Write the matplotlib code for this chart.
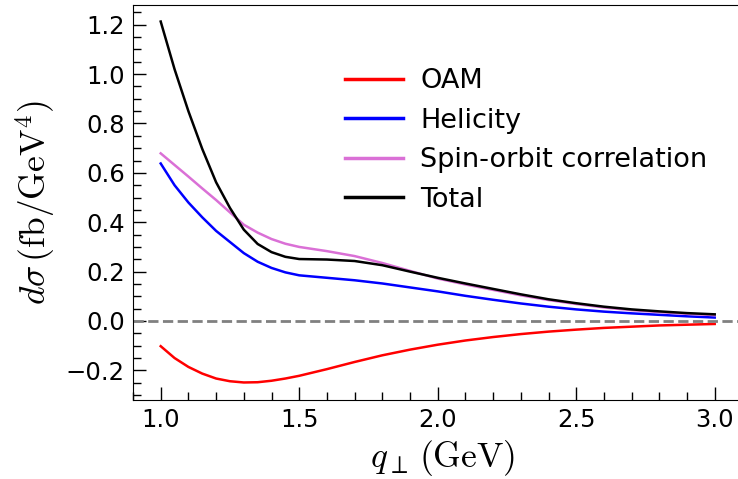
import matplotlib
matplotlib.use("Agg")
import matplotlib.pyplot as plt
from matplotlib.ticker import MultipleLocator

plt.rcParams['mathtext.fontset'] = 'cm'

# transverse momentum points (GeV)
q_perp = [1.0, 1.05, 1.1, 1.15, 1.2, 1.25, 1.3, 1.35, 1.4, 1.45, 1.5, 1.6, 1.7,
          1.8, 1.9, 2.0, 2.1, 2.2, 2.3, 2.4, 2.5, 2.6, 2.7, 2.8, 2.9, 3.0]

# cross section contributions (fb/GeV^4)
oam = [-0.102, -0.150, -0.186, -0.213, -0.233, -0.244, -0.249, -0.248, -0.242,
       -0.233, -0.222, -0.195, -0.166, -0.139, -0.116, -0.096, -0.079, -0.065,
       -0.053, -0.043, -0.035, -0.028, -0.023, -0.018, -0.015, -0.012]
helicity = [0.638, 0.550, 0.480, 0.420, 0.365, 0.320, 0.275, 0.240, 0.215, 0.197,
            0.185, 0.175, 0.165, 0.152, 0.136, 0.120, 0.102, 0.086, 0.071, 0.058,
            0.047, 0.038, 0.031, 0.025, 0.019, 0.014]
spin_orbit = [0.679, 0.632, 0.585, 0.537, 0.490, 0.440, 0.390, 0.358, 0.332, 0.313,
              0.300, 0.283, 0.263, 0.235, 0.203, 0.172, 0.148, 0.126, 0.104, 0.085,
              0.069, 0.055, 0.044, 0.036, 0.029, 0.024]
total = [1.213, 1.020, 0.850, 0.697, 0.562, 0.458, 0.370, 0.312, 0.279, 0.260,
         0.251, 0.249, 0.243, 0.226, 0.200, 0.175, 0.152, 0.130, 0.108, 0.088,
         0.072, 0.058, 0.047, 0.039, 0.032, 0.027]

labels = ['OAM', 'Helicity', 'Spin-orbit correlation', 'Total']
colors = ['red', 'blue', 'orchid', 'black']

fig = plt.figure(figsize=(7.38, 4.79), dpi=100)
# right spine sits just past the figure edge, as in the original crop
ax = fig.add_axes([133 / 738, 79 / 479, 620 / 738, 395 / 479])
ax.set_xlim(0.9, 0.9 + 620 / 277)
ax.set_ylim(-0.32, 1.28)

for ys, lab, c in zip([oam, helicity, spin_orbit, total], labels, colors):
    ax.plot(q_perp, ys, color=c, lw=1.8, label=lab)

ax.axhline(0, color='gray', ls='--', lw=2)

ax.xaxis.set_major_locator(MultipleLocator(0.5))
ax.xaxis.set_minor_locator(MultipleLocator(0.1))
ax.yaxis.set_major_locator(MultipleLocator(0.2))
ax.yaxis.set_minor_locator(MultipleLocator(0.05))
ax.tick_params(which='both', direction='in', labelsize=17.5, pad=6)
ax.tick_params(which='major', length=9.5, width=1)
ax.tick_params(which='minor', length=5.5, width=1)

ax.set_xlabel(r'$q_\perp\,(\mathrm{GeV})$', fontsize=25.5, labelpad=4)
ax.set_ylabel(r'$d\sigma\,(\mathrm{fb}/\mathrm{GeV}^4)$', fontsize=25.5, labelpad=6)

leg = ax.legend(loc='upper left', bbox_to_anchor=(345 / 738, 1 - 68 / 479),
                bbox_transform=fig.transFigure, frameon=False, fontsize=19.5,
                handlelength=2.15, handletextpad=0.62, labelspacing=0.5,
                borderpad=0, borderaxespad=0)
for line in leg.get_lines():
    line.set_linewidth(2.5)

fig.savefig('out.png', dpi=100)
